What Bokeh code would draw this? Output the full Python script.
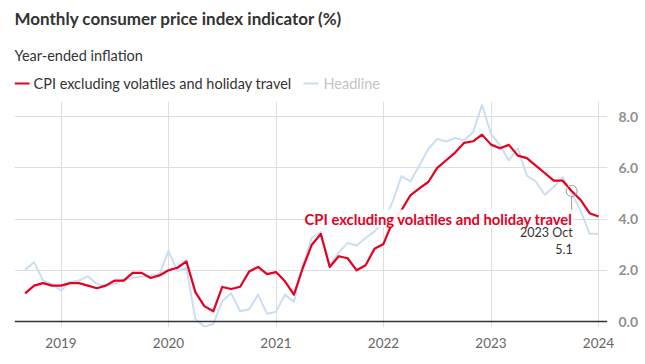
import pandas as pd
from bokeh.plotting import figure
from bokeh.layouts import column
from bokeh.models import (Label, Span, FixedTicker, NumeralTickFormatter,
                          Range1d, ColumnDataSource)
from bokeh.core.properties import value
from bokeh.embed import file_html
from bokeh.resources import INLINE

# ---------------- data ----------------
months = [str(m) for m in pd.period_range("2018-09", "2024-01", freq="M")]

cpi_excl = [
    1.1, 1.4, 1.5, 1.4,                                                    # 2018 Sep-Dec
    1.4, 1.5, 1.5, 1.4, 1.3, 1.4, 1.6, 1.6, 1.9, 1.9, 1.7, 1.8,            # 2019
    2.0, 2.1, 2.35, 1.15, 0.6, 0.4, 1.35, 1.27, 1.36, 1.95, 2.13, 1.85,    # 2020
    1.93, 1.57, 1.05, 2.1, 3.0, 3.42, 2.13, 2.55, 2.47, 2.0, 2.2, 2.84,    # 2021
    3.03, 3.88, 4.34, 4.93, 5.2, 5.45, 6.0, 6.3, 6.6, 6.98, 7.04, 7.3,     # 2022
    6.91, 6.77, 6.9, 6.48, 6.38, 6.09, 5.8, 5.5, 5.5, 5.1, 4.75, 4.23,     # 2023
    4.1,                                                                   # 2024 Jan
]
headline = [
    2.02, 2.32, 1.6, 1.45,
    1.21, 1.54, 1.6, 1.77, 1.47, 1.38, 1.47, 1.63, 1.7, 1.76, 1.8, 1.86,
    2.75, 1.97, 2.1, 0.1, -0.2, -0.1, 0.8, 1.1, 0.4, 0.48, 1.05, 0.3,
    0.38, 1.05, 0.77, 2.2, 3.27, 3.49, 2.2, 2.7, 3.07, 2.97, 3.26, 3.52,
    3.88, 4.66, 5.68, 5.47, 6.09, 6.74, 7.13, 7.03, 7.17, 7.07, 7.4, 8.46,
    7.33, 6.88, 6.29, 6.77, 5.7, 5.47, 4.95, 5.25, 5.64, 5.0, 4.34, 3.43,
    3.43,
]
year_ticks = [2019, 2020, 2021, 2022, 2023, 2024]
value_ticks = [0, 2, 4, 6, 8]

title = "Monthly consumer price index indicator (%)"
subtitle = "Year-ended inflation"
name_excl = "CPI excluding volatiles and holiday travel"
name_head = "Headline"
note_month = "2023-10"

RED = "#e6001f"
BLUE = "#cadef3"
FONT = "Lato"

def to_x(m):
    y, mo = m.split("-")
    return int(y) + (int(mo) - 1) / 12.0

xs = [to_x(m) for m in months]
src = ColumnDataSource(dict(x=xs, excl=cpi_excl, head=headline))

# frame geometry shared by both figures (pixels)
LEFT, RIGHT_BORDER, W = 14, 38, 645
HEAD_H = 96

# ---------------- header figure (title, subtitle, legend) ----------------
h = figure(width=W, height=HEAD_H, output_backend="svg", toolbar_location=None,
           x_range=Range1d(LEFT, W - RIGHT_BORDER), y_range=Range1d(HEAD_H, 0),
           min_border_left=LEFT, min_border_right=RIGHT_BORDER,
           min_border_top=0, min_border_bottom=0,
           x_axis_type=None, y_axis_type=None)
h.outline_line_color = None
h.grid.visible = False

h.text(x=[14], y=[18], text=[title], text_font=value(FONT), text_font_style="bold",
       text_font_size="17px", text_color="#333333", text_baseline="middle")
h.text(x=[14], y=[55], text=[subtitle], text_font=value(FONT),
       text_font_size="14.5px", text_color="#333333", text_baseline="middle")
h.segment(x0=[14], y0=[83], x1=[29], y1=[83], line_color=RED, line_width=2)
h.text(x=[33], y=[83], text=[name_excl], text_font=value(FONT),
       text_font_size="14.5px", text_color="#333333", text_baseline="middle")
h.segment(x0=[303], y0=[83], x1=[318], y1=[83], line_color=BLUE, line_width=2)
h.text(x=[323], y=[83], text=[name_head], text_font=value(FONT),
       text_font_size="14.5px", text_color="#c4c4c4", text_baseline="middle")

# ---------------- main chart ----------------
p = figure(width=W, height=364 - HEAD_H, output_backend="svg", toolbar_location=None,
           x_range=Range1d(2018.5674, 2024.0837), y_range=Range1d(-0.234, 8.594),
           y_axis_location="right", min_border_left=LEFT, min_border_top=5,
           min_border_right=RIGHT_BORDER, min_border_bottom=37)
p.outline_line_color = None
p.background_fill_color = "white"
p.border_fill_color = "white"

p.xaxis.ticker = FixedTicker(ticks=year_ticks)
p.xaxis.axis_line_color = None
p.xaxis.major_tick_line_color = None
p.xaxis.minor_tick_line_color = None
p.xaxis.major_label_standoff = 4
p.xaxis.major_label_text_font = FONT
p.xaxis.major_label_text_font_size = "13.5px"
p.xaxis.major_label_text_color = "#666666"

p.yaxis.ticker = FixedTicker(ticks=value_ticks)
p.yaxis.formatter = NumeralTickFormatter(format="0.0")
p.yaxis.axis_line_color = None
p.yaxis.major_tick_line_color = None
p.yaxis.minor_tick_line_color = None
p.yaxis.major_label_standoff = 5
p.yaxis.major_label_text_font = FONT
p.yaxis.major_label_text_font_size = "14px"
p.yaxis.major_label_text_font_style = "bold"
p.yaxis.major_label_text_color = "#8f8f8f"

p.xgrid.ticker = FixedTicker(ticks=year_ticks)
p.ygrid.ticker = FixedTicker(ticks=value_ticks[1:])
p.xgrid.grid_line_color = "#dddddd"
p.ygrid.grid_line_color = "#dddddd"

p.add_layout(Span(location=0, dimension="width", line_color="#333333", line_width=1.5))

p.line("x", "head", source=src, line_color=BLUE, line_width=2, line_join="round")
p.line("x", "excl", source=src, line_color=RED, line_width=2.2, line_join="round")

# annotation at Oct 2023
i = months.index(note_month)
nx, ny = xs[i], cpi_excl[i]
p.scatter([nx], [ny], size=11, fill_color=None, line_color="#999999", line_width=1)
p.segment(x0=[nx], y0=[ny - 0.23], x1=[nx], y1=[ny - 0.86], line_color="#999999", line_width=1)

p.add_layout(Label(x=nx, y=ny, x_offset=1, y_offset=-27.6, text=name_excl,
                   text_align="right", text_baseline="middle", text_font=FONT,
                   text_font_style="bold", text_font_size="14.8px", text_color=RED,
                   background_fill_color="white", background_fill_alpha=0.9))
p.add_layout(Label(x=nx, y=ny, x_offset=1, y_offset=-41.6, text="2023 Oct",
                   text_align="right", text_baseline="middle", text_font=FONT,
                   text_font_size="12.5px", text_color="#333333"))
p.add_layout(Label(x=nx, y=ny, x_offset=1, y_offset=-57.9, text=f"{ny:.1f}",
                   text_align="right", text_baseline="middle", text_font=FONT,
                   text_font_size="12.5px", text_color="#333333"))

layout = column(h, p, spacing=0)
open("out.html", "w").write(file_html(layout, INLINE))
